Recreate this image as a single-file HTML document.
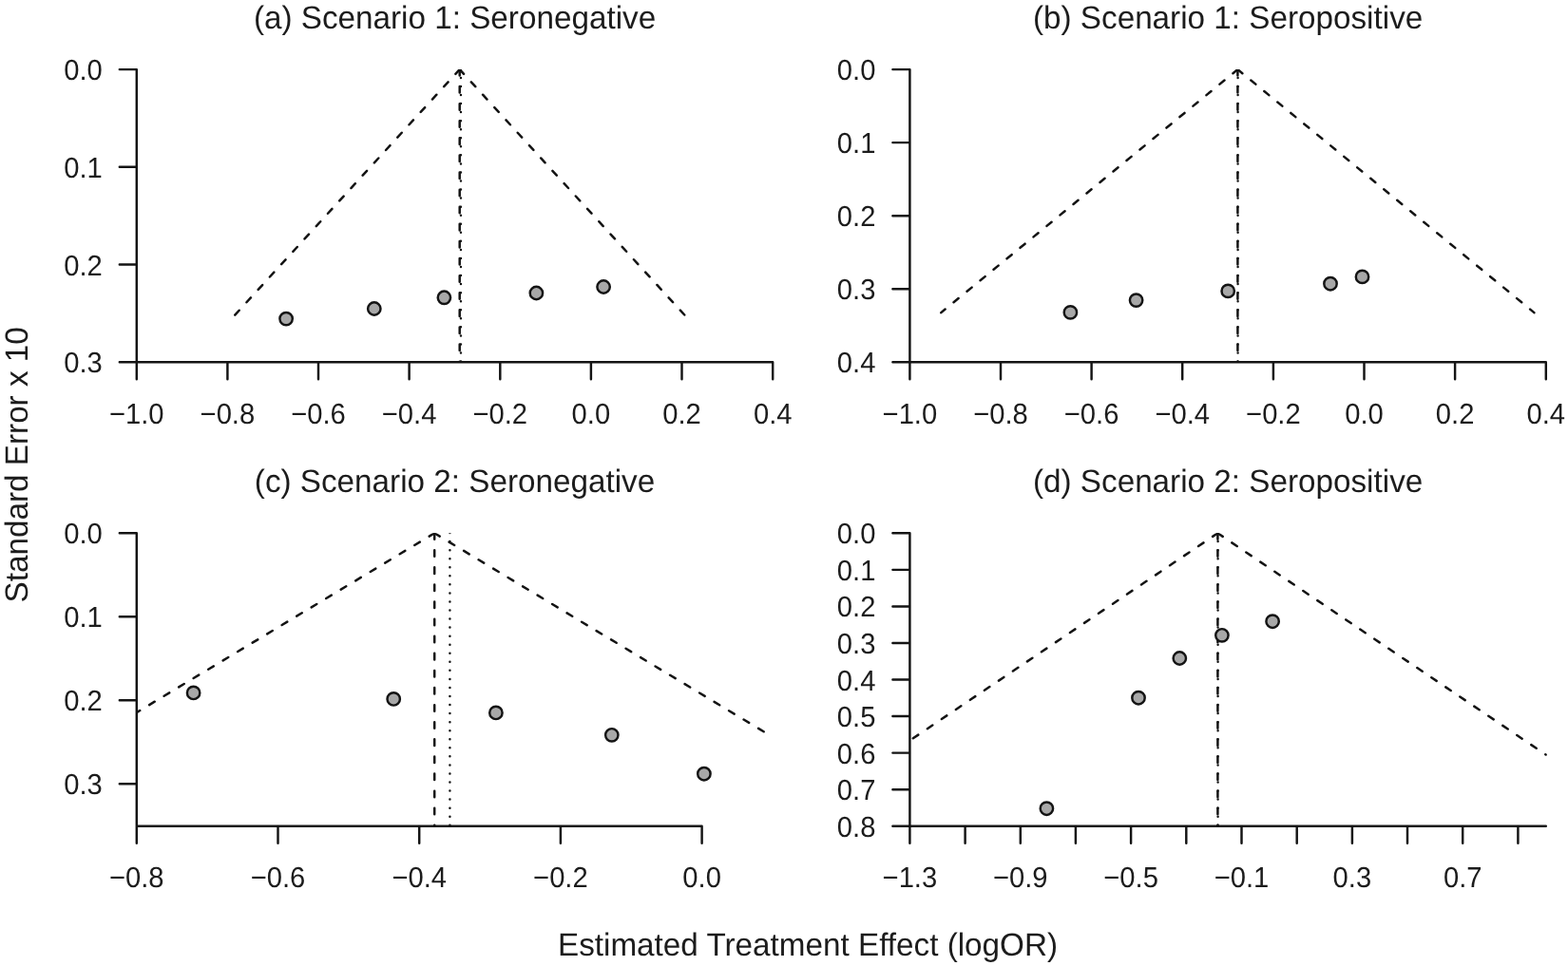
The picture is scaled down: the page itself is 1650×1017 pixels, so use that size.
<!DOCTYPE html>
<html lang="en"><head><meta charset="utf-8"><title>Funnel plots</title>
<style>
html,body{margin:0;padding:0;background:#fff;}
body{width:1650px;height:1017px;overflow:hidden;}
svg{display:block;}
text{font-family:"Liberation Sans",Arial,Helvetica,sans-serif;fill:#1c1c1c;text-rendering:geometricPrecision;}
.t{font-size:33.25px;text-anchor:middle;}
.l{font-size:33.25px;text-anchor:middle;}
.x{font-size:29.2px;text-anchor:middle;}
.y{font-size:29.2px;text-anchor:end;}
.ax{stroke:#141414;stroke-width:2.45;fill:none;stroke-linecap:round;stroke-linejoin:round;}
.da{stroke:#141414;stroke-width:2.5;fill:none;stroke-linecap:round;stroke-dasharray:6.55 11.55;}
.do{stroke:#141414;stroke-width:2.5;fill:none;stroke-linecap:round;stroke-dasharray:0.01 9.04;}
.p{stroke:#141414;stroke-width:2.45;fill:#a8a8a8;}
</style></head><body>
<svg width="1650" height="1017" viewBox="0 0 1650 1017" role="img" aria-label="Funnel plots of standard error against estimated treatment effect for four scenarios">
<rect x="0" y="0" width="1650" height="1017" fill="#ffffff"/>
<g>
<text class="t" transform="translate(478.5 30) scale(1 1.015)">(a) Scenario 1: Seronegative</text>
<path class="ax" d="M143.8 73.1V381.2M143.8 73.1H125.8M143.8 175.8H125.8M143.8 278.5H125.8M143.8 381.2H125.8M143.8 381.2H813.2M143.8 381.2V399.2M239.4 381.2V399.2M335 381.2V399.2M430.6 381.2V399.2M526.3 381.2V399.2M621.9 381.2V399.2M717.5 381.2V399.2M813.2 381.2V399.2"/>
<text class="y" transform="translate(107.8 84.1) scale(1 1.04)">0.0</text>
<text class="y" transform="translate(107.8 186.8) scale(1 1.04)">0.1</text>
<text class="y" transform="translate(107.8 289.5) scale(1 1.04)">0.2</text>
<text class="y" transform="translate(107.8 392.2) scale(1 1.04)">0.3</text>
<text class="x" transform="translate(143.8 445.6) scale(1 1.04)">−1.0</text>
<text class="x" transform="translate(239.4 445.6) scale(1 1.04)">−0.8</text>
<text class="x" transform="translate(335 445.6) scale(1 1.04)">−0.6</text>
<text class="x" transform="translate(430.6 445.6) scale(1 1.04)">−0.4</text>
<text class="x" transform="translate(526.3 445.6) scale(1 1.04)">−0.2</text>
<text class="x" transform="translate(621.9 445.6) scale(1 1.04)">0.0</text>
<text class="x" transform="translate(717.5 445.6) scale(1 1.04)">0.2</text>
<text class="x" transform="translate(813.2 445.6) scale(1 1.04)">0.4</text>
<clipPath id="c0"><rect x="143.8" y="73.1" width="673.4" height="308.1"/></clipPath>
<g clip-path="url(#c0)">
<path class="da" stroke-dashoffset="0.13" d="M483.7 73.1L246.6 332.3"/>
<path class="da" stroke-dashoffset="0.13" d="M483.7 73.1L721 332.3"/>
<path class="da" stroke-dashoffset="0.13" d="M483.7 73.1V381.2"/>
<path class="do" d="M484.95 72.85V381.2"/>
</g>
<circle class="p" cx="301.1" cy="335.6" r="6.7"/>
<circle class="p" cx="393.8" cy="325" r="6.7"/>
<circle class="p" cx="467.4" cy="313.3" r="6.7"/>
<circle class="p" cx="564.4" cy="308.5" r="6.7"/>
<circle class="p" cx="635.1" cy="302" r="6.7"/>
</g>
<g>
<text class="t" transform="translate(1292.1 30) scale(1 1.015)">(b) Scenario 1: Seropositive</text>
<path class="ax" d="M957.4 73.1V381.2M957.4 73.1H939.4M957.4 150.12H939.4M957.4 227.15H939.4M957.4 304.18H939.4M957.4 381.2H939.4M957.4 381.2H1626.8M957.4 381.2V399.2M1053 381.2V399.2M1148.6 381.2V399.2M1244.2 381.2V399.2M1339.9 381.2V399.2M1435.5 381.2V399.2M1531.1 381.2V399.2M1626.8 381.2V399.2"/>
<text class="y" transform="translate(921.4 84.1) scale(1 1.04)">0.0</text>
<text class="y" transform="translate(921.4 161.12) scale(1 1.04)">0.1</text>
<text class="y" transform="translate(921.4 238.15) scale(1 1.04)">0.2</text>
<text class="y" transform="translate(921.4 315.18) scale(1 1.04)">0.3</text>
<text class="y" transform="translate(921.4 392.2) scale(1 1.04)">0.4</text>
<text class="x" transform="translate(957.4 445.6) scale(1 1.04)">−1.0</text>
<text class="x" transform="translate(1053 445.6) scale(1 1.04)">−0.8</text>
<text class="x" transform="translate(1148.6 445.6) scale(1 1.04)">−0.6</text>
<text class="x" transform="translate(1244.2 445.6) scale(1 1.04)">−0.4</text>
<text class="x" transform="translate(1339.9 445.6) scale(1 1.04)">−0.2</text>
<text class="x" transform="translate(1435.5 445.6) scale(1 1.04)">0.0</text>
<text class="x" transform="translate(1531.1 445.6) scale(1 1.04)">0.2</text>
<text class="x" transform="translate(1626.8 445.6) scale(1 1.04)">0.4</text>
<clipPath id="c1"><rect x="957.4" y="73.1" width="673.4" height="308.1"/></clipPath>
<g clip-path="url(#c1)">
<path class="da" stroke-dashoffset="0.13" d="M1302.4 73.1L990.3 329.1"/>
<path class="da" stroke-dashoffset="0.13" d="M1302.4 73.1L1614.4 329.1"/>
<path class="da" stroke-dashoffset="0.13" d="M1302.4 73.1V381.2"/>
<path class="do" d="M1302.6 72.85V381.2"/>
</g>
<circle class="p" cx="1126.4" cy="328.9" r="6.7"/>
<circle class="p" cx="1195.6" cy="316.1" r="6.7"/>
<circle class="p" cx="1292.2" cy="306.4" r="6.7"/>
<circle class="p" cx="1400" cy="298.7" r="6.7"/>
<circle class="p" cx="1433.5" cy="291.4" r="6.7"/>
</g>
<g>
<text class="t" transform="translate(478.5 518) scale(1 1.015)">(c) Scenario 2: Seronegative</text>
<path class="ax" d="M143.8 561.3V869.7M143.8 561.3H125.8M143.8 649.25H125.8M143.8 737.2H125.8M143.8 825.15H125.8M143.8 869.7H738.6M143.8 869.7V887.7M292.5 869.7V887.7M441.2 869.7V887.7M589.9 869.7V887.7M738.6 869.7V887.7"/>
<text class="y" transform="translate(107.8 572.3) scale(1 1.04)">0.0</text>
<text class="y" transform="translate(107.8 660.25) scale(1 1.04)">0.1</text>
<text class="y" transform="translate(107.8 748.2) scale(1 1.04)">0.2</text>
<text class="y" transform="translate(107.8 836.15) scale(1 1.04)">0.3</text>
<text class="x" transform="translate(143.8 934.1) scale(1 1.04)">−0.8</text>
<text class="x" transform="translate(292.5 934.1) scale(1 1.04)">−0.6</text>
<text class="x" transform="translate(441.2 934.1) scale(1 1.04)">−0.4</text>
<text class="x" transform="translate(589.9 934.1) scale(1 1.04)">−0.2</text>
<text class="x" transform="translate(738.6 934.1) scale(1 1.04)">0.0</text>
<clipPath id="c2"><rect x="143.8" y="561.3" width="673.4" height="308.4"/></clipPath>
<g clip-path="url(#c2)">
<path class="da" stroke-dashoffset="0.13" d="M457.2 561.3L143.8 750.1"/>
<path class="da" stroke-dashoffset="0.13" d="M457.2 561.3L813.5 776.2"/>
<path class="da" stroke-dashoffset="0.13" d="M457.2 561.3V869.7"/>
<path class="do" d="M473.4 561.05V869.7"/>
</g>
<circle class="p" cx="203.6" cy="729.4" r="6.7"/>
<circle class="p" cx="414.2" cy="735.9" r="6.7"/>
<circle class="p" cx="521.9" cy="750.4" r="6.7"/>
<circle class="p" cx="643.8" cy="773.8" r="6.7"/>
<circle class="p" cx="740.9" cy="814.7" r="6.7"/>
</g>
<g>
<text class="t" transform="translate(1292.1 518) scale(1 1.015)">(d) Scenario 2: Seropositive</text>
<path class="ax" d="M957.4 561.3V869.7M957.4 561.3H939.4M957.4 599.85H939.4M957.4 638.4H939.4M957.4 676.95H939.4M957.4 715.5H939.4M957.4 754.05H939.4M957.4 792.6H939.4M957.4 831.15H939.4M957.4 869.7H939.4M957.4 869.7H1626.8M957.4 869.7V887.7M1015.6 869.7V887.7M1073.8 869.7V887.7M1131.9 869.7V887.7M1190.1 869.7V887.7M1248.3 869.7V887.7M1306.5 869.7V887.7M1364.7 869.7V887.7M1422.9 869.7V887.7M1481 869.7V887.7M1539.2 869.7V887.7M1597.4 869.7V887.7"/>
<text class="y" transform="translate(921.4 572.3) scale(1 1.04)">0.0</text>
<text class="y" transform="translate(921.4 610.85) scale(1 1.04)">0.1</text>
<text class="y" transform="translate(921.4 649.4) scale(1 1.04)">0.2</text>
<text class="y" transform="translate(921.4 687.95) scale(1 1.04)">0.3</text>
<text class="y" transform="translate(921.4 726.5) scale(1 1.04)">0.4</text>
<text class="y" transform="translate(921.4 765.05) scale(1 1.04)">0.5</text>
<text class="y" transform="translate(921.4 803.6) scale(1 1.04)">0.6</text>
<text class="y" transform="translate(921.4 842.15) scale(1 1.04)">0.7</text>
<text class="y" transform="translate(921.4 880.7) scale(1 1.04)">0.8</text>
<text class="x" transform="translate(957.4 934.1) scale(1 1.04)">−1.3</text>
<text class="x" transform="translate(1073.8 934.1) scale(1 1.04)">−0.9</text>
<text class="x" transform="translate(1190.1 934.1) scale(1 1.04)">−0.5</text>
<text class="x" transform="translate(1306.5 934.1) scale(1 1.04)">−0.1</text>
<text class="x" transform="translate(1422.9 934.1) scale(1 1.04)">0.3</text>
<text class="x" transform="translate(1539.2 934.1) scale(1 1.04)">0.7</text>
<clipPath id="c3"><rect x="957.4" y="561.3" width="673.4" height="308.4"/></clipPath>
<g clip-path="url(#c3)">
<path class="da" stroke-dashoffset="0.13" d="M1281.4 561.3L957.4 779.6"/>
<path class="da" stroke-dashoffset="0.13" d="M1281.4 561.3L1626.6 794.5"/>
<path class="da" stroke-dashoffset="0.13" d="M1281.4 561.3V869.7"/>
<path class="do" d="M1281.6 561.05V869.7"/>
</g>
<circle class="p" cx="1101.4" cy="851.2" r="6.7"/>
<circle class="p" cx="1198" cy="734.7" r="6.7"/>
<circle class="p" cx="1241.3" cy="693" r="6.7"/>
<circle class="p" cx="1285.9" cy="668.8" r="6.7"/>
<circle class="p" cx="1339.1" cy="654.2" r="6.7"/>
</g>
<text class="l" transform="translate(850 1005.7) scale(1 1.015)">Estimated Treatment Effect (logOR)</text>
<text class="l" transform="translate(29.2 489.3) rotate(-90) scale(1 1.015)">Standard Error x 10</text>
</svg>
</body></html>
